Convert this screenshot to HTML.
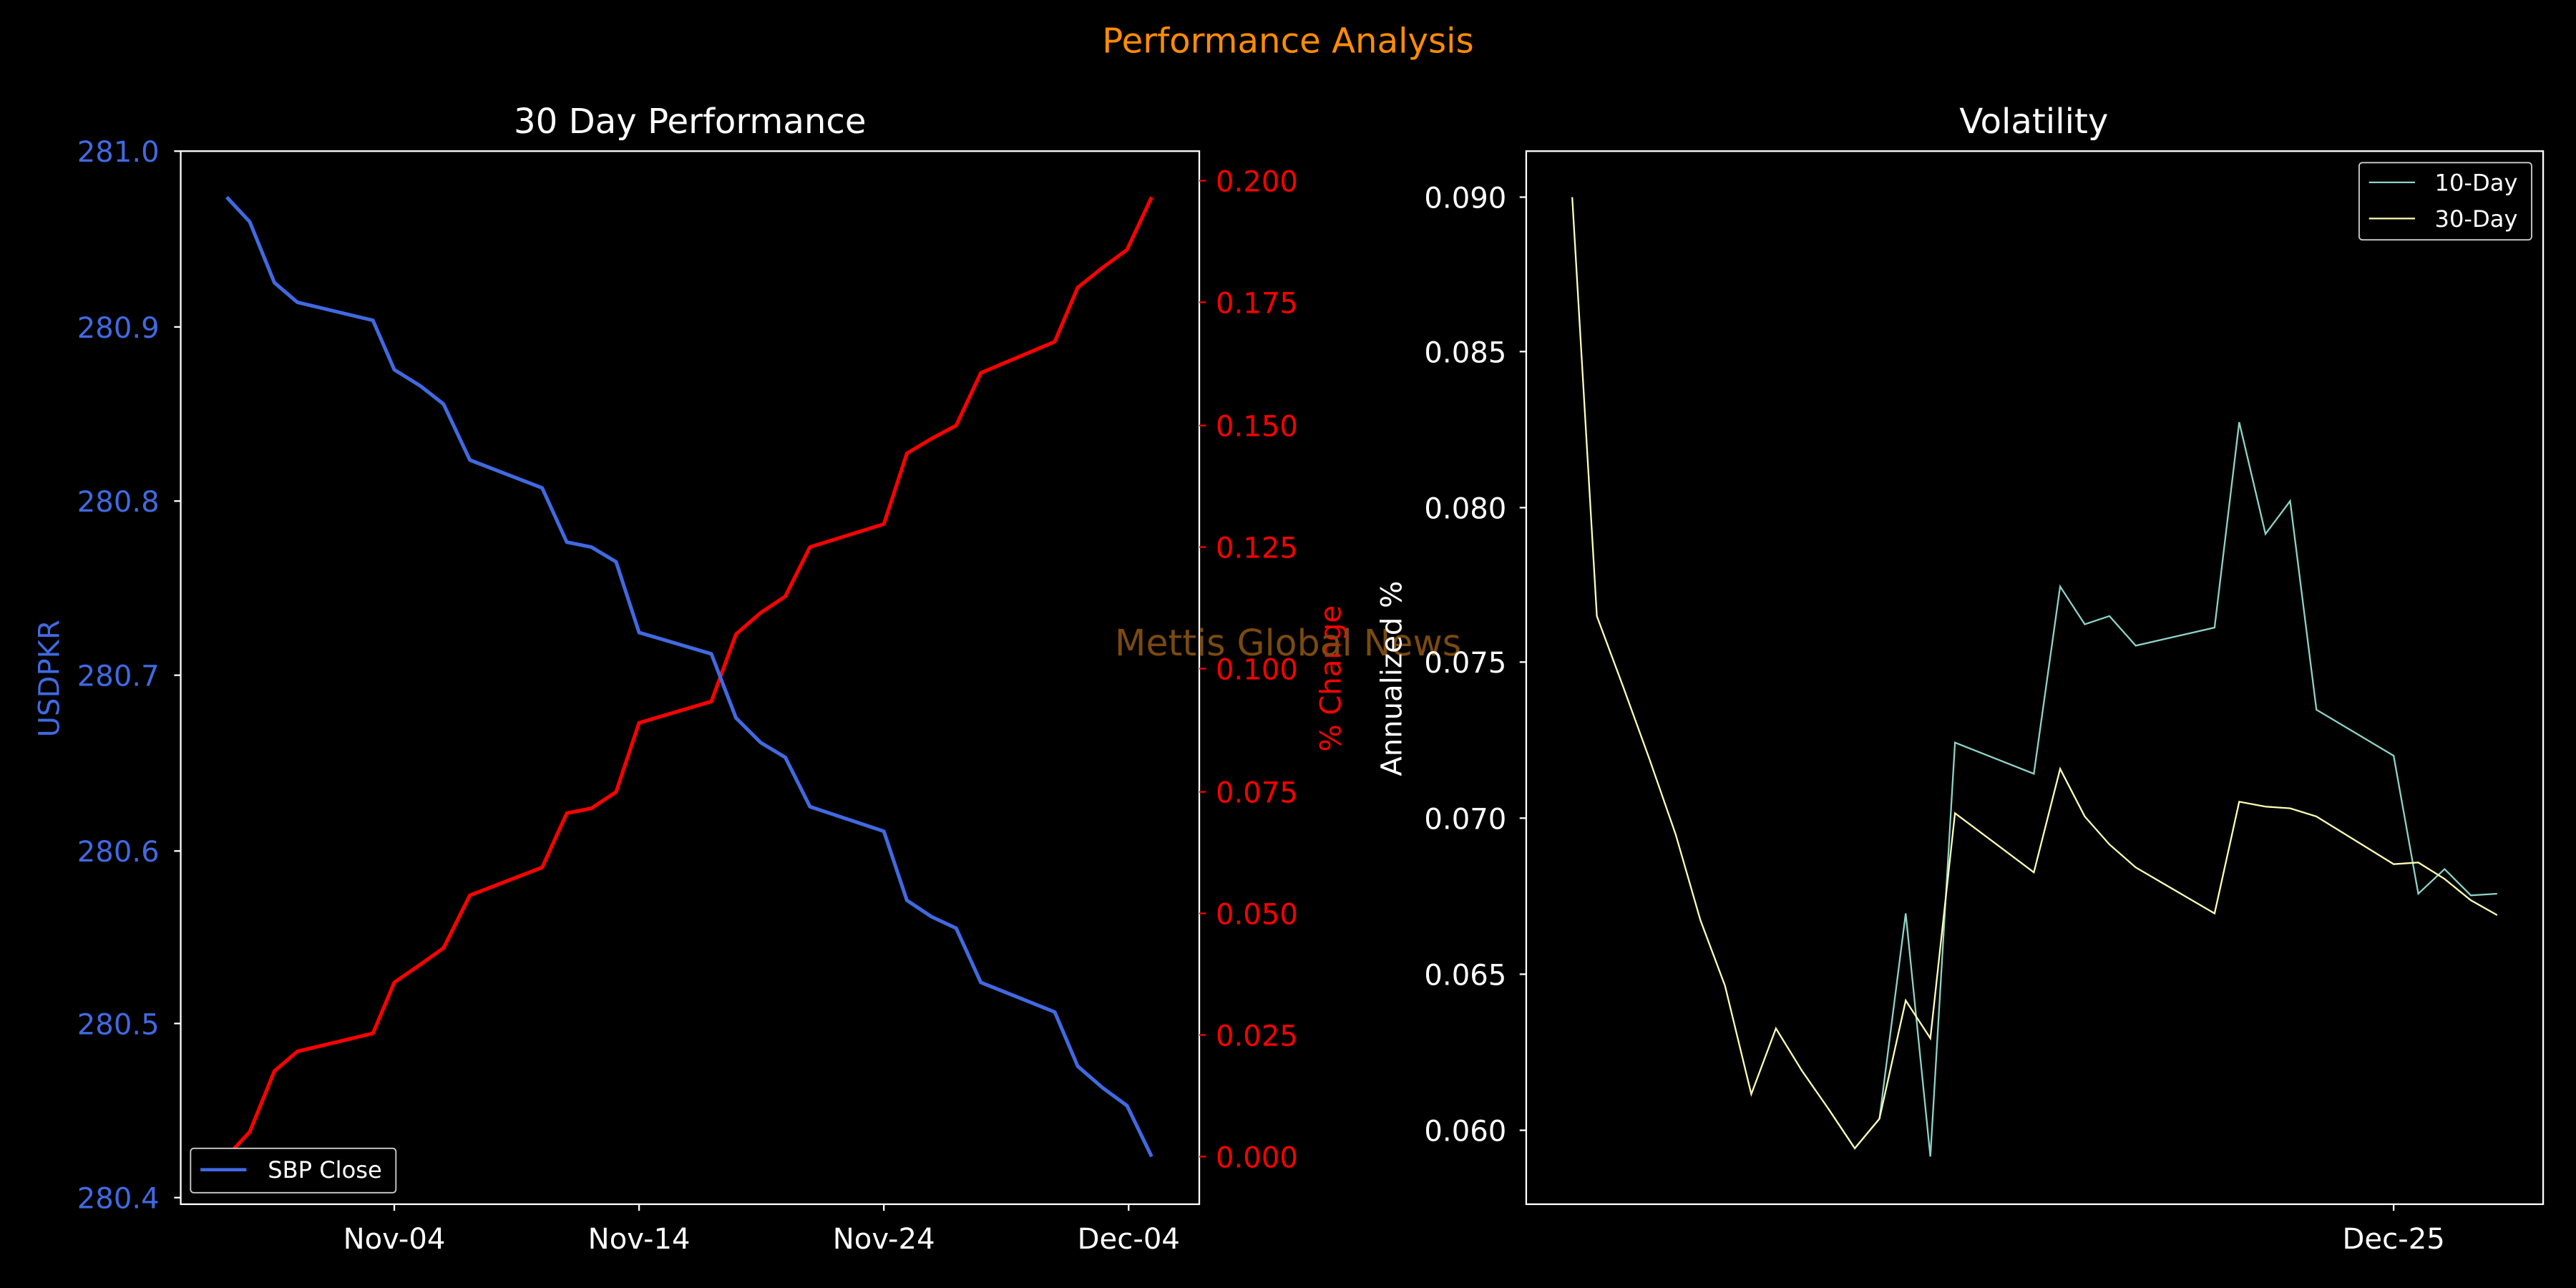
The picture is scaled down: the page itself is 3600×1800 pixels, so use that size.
<!DOCTYPE html>
<html><head><meta charset="utf-8"><style>
html,body{margin:0;padding:0;background:#000;}
svg{display:block;}
text{font-family:"DejaVu Sans","Liberation Sans",sans-serif;}
</style></head><body>
<svg width="3600" height="1800" viewBox="0 0 1568 784" xmlns="http://www.w3.org/2000/svg">
<rect width="1568" height="784" fill="#000"/>
<text x="784" y="32" font-size="21" fill="#ff8c00" text-anchor="middle">Performance Analysis</text>
<text x="420" y="81" font-size="21" fill="#fff" text-anchor="middle">30 Day Performance</text>
<text x="1238" y="81" font-size="21" fill="#fff" text-anchor="middle">Volatility</text>

<rect x="110" y="92" width="620" height="641" fill="none" stroke="#fff" stroke-width="1"/>
<g font-size="17.5" fill="#4169e1" text-anchor="end">
<text x="97" y="98.5">281.0</text><text x="97" y="205.5">280.9</text><text x="97" y="311.5">280.8</text>
<text x="97" y="417.5">280.7</text><text x="97" y="524.5">280.6</text><text x="97" y="629.5">280.5</text><text x="97" y="735.5">280.4</text>
</g>
<g stroke="#fff" stroke-width="1">
<line x1="106" y1="92" x2="110" y2="92"/><line x1="106" y1="199" x2="110" y2="199"/><line x1="106" y1="305" x2="110" y2="305"/>
<line x1="106" y1="411" x2="110" y2="411"/><line x1="106" y1="518" x2="110" y2="518"/><line x1="106" y1="623" x2="110" y2="623"/><line x1="106" y1="729" x2="110" y2="729"/>
<line x1="240" y1="733" x2="240" y2="737"/><line x1="389" y1="733" x2="389" y2="737"/><line x1="538" y1="733" x2="538" y2="737"/><line x1="687" y1="733" x2="687" y2="737"/>
</g>
<g stroke="#ff0000" stroke-width="1">
<line x1="730" y1="110" x2="734" y2="110"/><line x1="730" y1="184" x2="734" y2="184"/><line x1="730" y1="259" x2="734" y2="259"/>
<line x1="730" y1="333" x2="734" y2="333"/><line x1="730" y1="407" x2="734" y2="407"/><line x1="730" y1="482" x2="734" y2="482"/>
<line x1="730" y1="556" x2="734" y2="556"/><line x1="730" y1="630" x2="734" y2="630"/><line x1="730" y1="704" x2="734" y2="704"/>
</g>
<g font-size="17.5" fill="#ff0000">
<text x="740" y="116.5">0.200</text><text x="740" y="190.5">0.175</text><text x="740" y="265.5">0.150</text>
<text x="740" y="339.5">0.125</text><text x="740" y="413.5">0.100</text><text x="740" y="488.5">0.075</text>
<text x="740" y="562.5">0.050</text><text x="740" y="636.5">0.025</text><text x="740" y="710.5">0.000</text>
</g>
<g font-size="17.5" fill="#fff" text-anchor="middle">
<text x="240" y="760">Nov-04</text><text x="389" y="760">Nov-14</text><text x="538" y="760">Nov-24</text><text x="687" y="760">Dec-04</text>
</g>
<text transform="translate(36,413) rotate(-90)" font-size="17.5" fill="#4169e1" text-anchor="middle">USDPKR</text>
<text transform="translate(816,413) rotate(-90)" font-size="17.5" fill="#ff0000" text-anchor="middle">% Change</text>

<polyline fill="none" stroke="#ff0000" stroke-width="2.2" stroke-linejoin="round" points="138,704 152,689 167,652 181,640 227,629 240,598 256,587 270,577 286,545 330,528 345,495 360,492 375,482 389,440 433,427 448,386 463,373 478,363 493,333 538,319 552,276 567,267 582,259 597,227 642,208 656,175 671,163 686,152 701,120"/>
<polyline fill="none" stroke="#4169e1" stroke-width="2.2" stroke-linejoin="round" points="138,120 152,135 167,172 181,184 227,195 240,225 256,235 270,246 286,280 330,297 345,330 360,333 375,342 389,385 433,398 448,437 463,452 478,461 493,491 538,506 552,548 567,558 582,565 597,598 642,616 656,649 671,662 686,673 701,704"/>

<rect x="116" y="699" width="125" height="27" fill="#000" stroke="#ccc" stroke-width="0.8" rx="2"/>
<line x1="122" y1="712" x2="150" y2="712" stroke="#4169e1" stroke-width="2"/>
<text x="163" y="717" font-size="14" fill="#fff">SBP Close</text>

<text x="784" y="399" font-size="22" fill="#7a4a10" text-anchor="middle">Mettis Global News</text>

<rect x="929" y="92" width="619" height="641" fill="none" stroke="#fff" stroke-width="1"/>
<g stroke="#fff" stroke-width="1">
<line x1="925" y1="120" x2="929" y2="120"/><line x1="925" y1="214" x2="929" y2="214"/><line x1="925" y1="309" x2="929" y2="309"/>
<line x1="925" y1="403" x2="929" y2="403"/><line x1="925" y1="498" x2="929" y2="498"/><line x1="925" y1="593" x2="929" y2="593"/><line x1="925" y1="688" x2="929" y2="688"/>
<line x1="1457" y1="733" x2="1457" y2="737"/>
</g>
<g font-size="17.5" fill="#fff" text-anchor="end">
<text x="917" y="126.5">0.090</text><text x="917" y="220.5">0.085</text><text x="917" y="315.5">0.080</text>
<text x="917" y="409.5">0.075</text><text x="917" y="504.5">0.070</text><text x="917" y="599.5">0.065</text><text x="917" y="694.5">0.060</text>
</g>
<text x="1457" y="760" font-size="17.5" fill="#fff" text-anchor="middle">Dec-25</text>
<text transform="translate(853,413) rotate(-90)" font-size="17.5" fill="#fff" text-anchor="middle">Annualized %</text>

<polyline fill="none" stroke="#8dd3c7" stroke-width="1" points="1113,675 1129,699 1144,681 1160,556 1175,704 1190,452 1238,471 1254,357 1269,380 1284,375 1300,393 1348,382 1363,257 1379,325 1394,305 1410,432 1457,460 1472,544 1488,529 1504,545 1520,544"/>
<polyline fill="none" stroke="#feffb3" stroke-width="1" points="957,120 972,375 988,418 1004,462 1020,508 1035,560 1050,600 1066,666 1081,626 1097,652 1113,675 1129,699 1144,681 1160,609 1175,632 1190,495 1238,531 1254,468 1269,497 1284,514 1300,528 1348,556 1363,488 1379,491 1394,492 1410,497 1457,526 1472,525 1488,535 1504,548 1520,557"/>

<rect x="1436" y="99" width="105" height="47" fill="#000" stroke="#ccc" stroke-width="0.8" rx="2"/>
<line x1="1442" y1="111" x2="1470" y2="111" stroke="#8dd3c7" stroke-width="1"/>
<text x="1482" y="116" font-size="14" fill="#fff">10-Day</text>
<line x1="1442" y1="133" x2="1470" y2="133" stroke="#feffb3" stroke-width="1"/>
<text x="1482" y="138" font-size="14" fill="#fff">30-Day</text>
</svg>
</body></html>
